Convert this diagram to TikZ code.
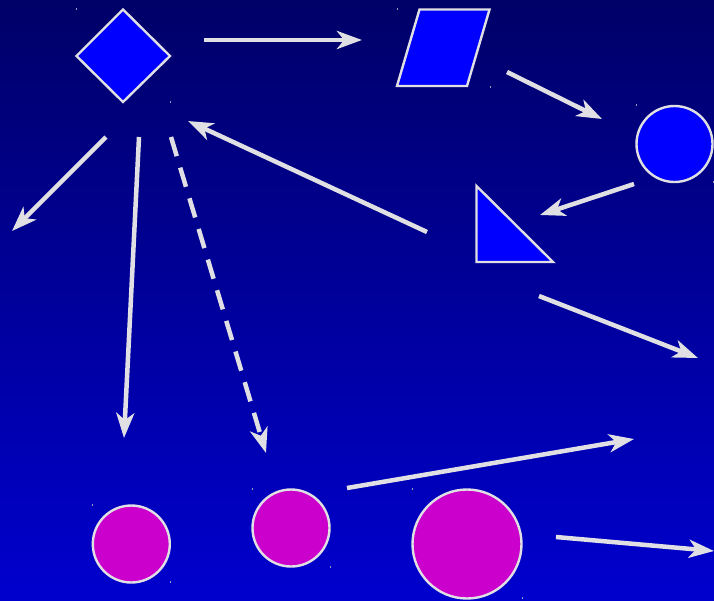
\documentclass[tikz,border=0pt]{standalone}
\usetikzlibrary{arrows.meta}
\definecolor{SkyTop}{RGB}{0, 0, 104}
\definecolor{SkyBottom}{RGB}{0, 0, 206}
\definecolor{ShapeBlue}{RGB}{0, 0, 255}
\definecolor{ShapeMagenta}{RGB}{204, 0, 204}
\definecolor{EdgeGrey}{RGB}{224, 224, 228}
\definecolor{MarkGrey}{RGB}{150, 150, 190}

\begin{document}
\begin{tikzpicture}[x=1pt, y=-1pt,
    shapeline/.style={draw=EdgeGrey, line width=2.4pt, line join=miter},
    arrowline/.style={draw=EdgeGrey, line width=4.5pt,
        -{Stealth[length=25pt, width=18pt, inset=7pt]}},
    dashline/.style={arrowline, dash pattern=on 20pt off 12pt}]

    % --- Background ---
    \shade[top color=SkyTop, bottom color=SkyBottom] (0,0) rectangle (714,600);
    \useasboundingbox (0,0) rectangle (714,600);

    % --- Blue shapes ---
    \filldraw[shapeline, fill=ShapeBlue] (123,9.5) -- (170,56) -- (123,102) -- (76.5,56) -- cycle; % diamond
    \filldraw[shapeline, fill=ShapeBlue] (419.5,9.5) -- (489.5,9.5) -- (467,86) -- (397,86) -- cycle; % parallelogram
    \filldraw[shapeline, fill=ShapeBlue] (674.5,144) circle (38);
    \filldraw[shapeline, fill=ShapeBlue] (476.5,186) -- (553,262) -- (476.5,262) -- cycle; % triangle

    % --- Magenta circles ---
    \filldraw[shapeline, fill=ShapeMagenta] (131.3,544) circle (38.5);
    \filldraw[shapeline, fill=ShapeMagenta] (291,528) circle (38.5);
    \filldraw[shapeline, fill=ShapeMagenta] (467,544) circle (54.5);

    % --- Corner marks ---
    \foreach \mx/\my in {76.5/9, 170/102, 397/9, 490/87, 636.5/105, 713/182,
                         92.5/505, 170/582, 252/489, 330/567, 412/489, 522/598} {
        \fill[MarkGrey] (\mx-0.5,\my-1) rectangle (\mx+0.5,\my+1);
    }

    % --- Arrow ends ---
    \coordinate (dmTail) at (204,40);    \coordinate (dmHead) at (362,40);
    \coordinate (pgTail) at (507,72);    \coordinate (pgHead) at (602,119);
    \coordinate (ciTail) at (634,184);   \coordinate (ciHead) at (540,215);
    \coordinate (trTail) at (427,232);   \coordinate (trHead) at (188,121);
    \coordinate (lfTail) at (106,137);   \coordinate (lfHead) at (12,231);
    \coordinate (dnTail) at (139,137);   \coordinate (dnHead) at (124,438);
    \coordinate (dsTail) at (171,137);   \coordinate (dsHead) at (266,453);
    \coordinate (rtTail) at (539,296);   \coordinate (rtHead) at (698,358);
    \coordinate (upTail) at (347,488);   \coordinate (upHead) at (634,439);
    \coordinate (lwTail) at (556,537);   \coordinate (lwHead) at (714,551);

    % --- Arrows ---
    \foreach \from/\to in {dmTail/dmHead, pgTail/pgHead, ciTail/ciHead, trTail/trHead,
                           lfTail/lfHead, dnTail/dnHead, rtTail/rtHead, upTail/upHead, lwTail/lwHead} {
        \draw[arrowline] (\from) -- (\to);
    }
    \draw[dashline] (dsTail) -- (dsHead);

\end{tikzpicture}
\end{document}
